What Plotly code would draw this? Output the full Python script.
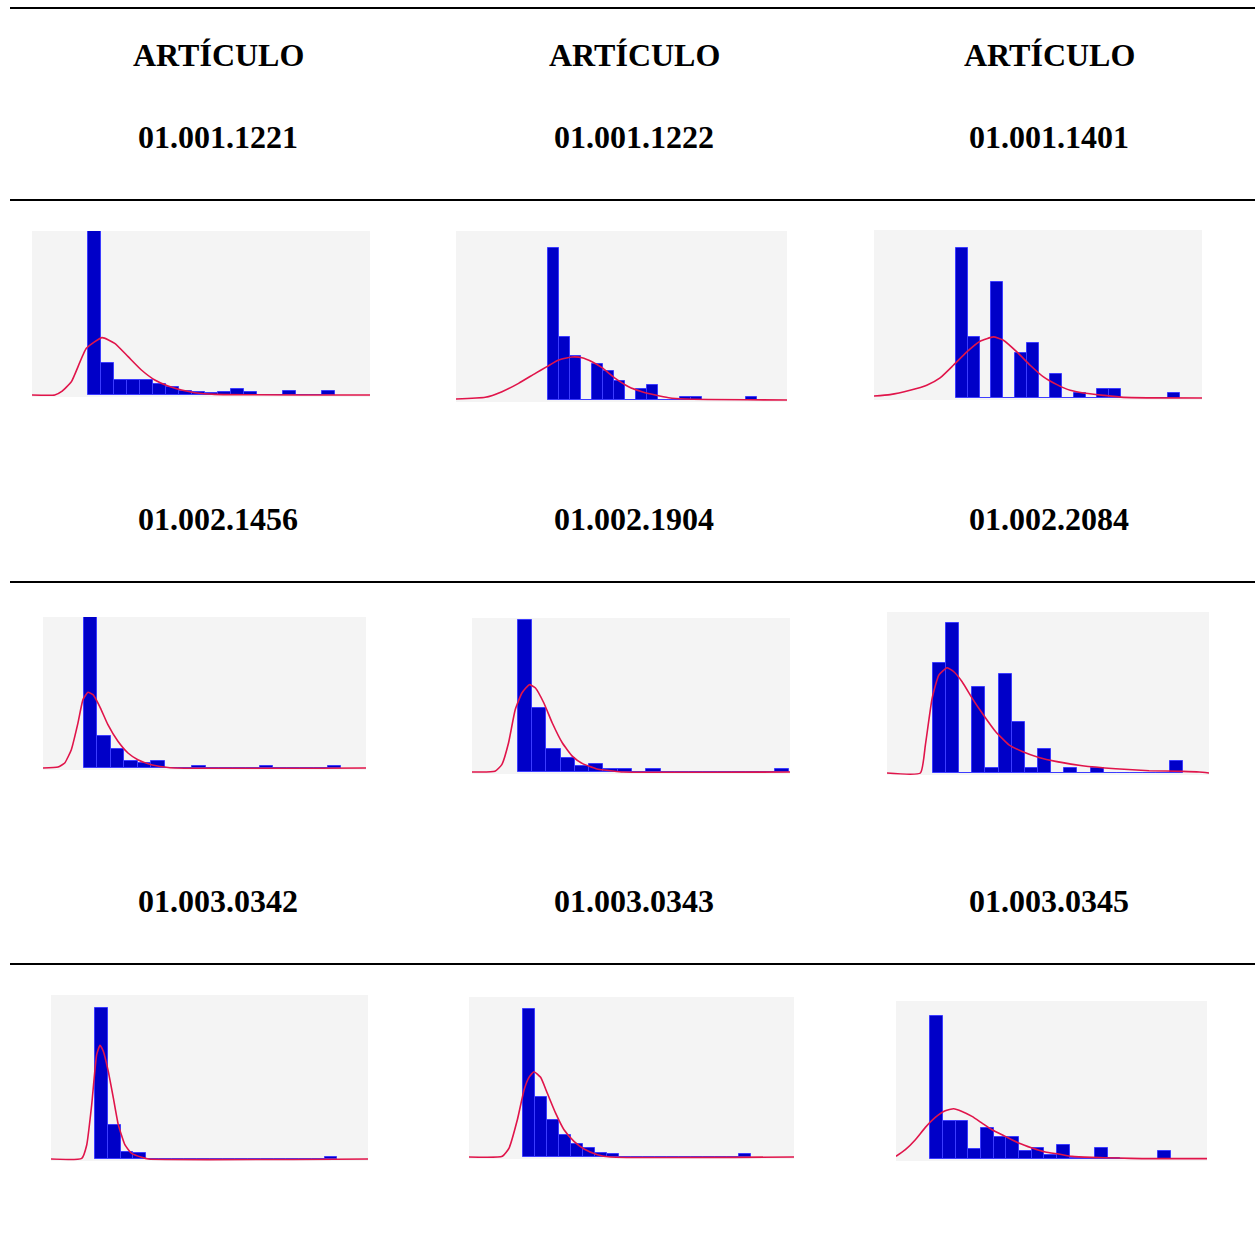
import numpy as np
import plotly.graph_objects as go

W, H = 1255, 1233

# ---------------- data (bin frequencies, relative units) ----------------
articles = ["01.001.1221", "01.001.1222", "01.001.1401",
            "01.002.1456", "01.002.1904", "01.002.2084",
            "01.003.0342", "01.003.0343", "01.003.0345"]
header_text = "ARTÍCULO"

freq_1 = [492, 95, 45, 45, 45, 32, 25, 12, 10, 5, 10, 17, 10, 0, 0, 12, 0, 0, 12]
freq_2 = [457, 190, 133, 0, 107, 87, 57, 0, 33, 45, 0, 0, 10, 10, 0, 0, 0, 0, 10]
freq_3 = [450, 183, 0, 348, 0, 135, 165, 0, 73, 0, 15, 0, 28, 28, 0, 0, 0, 0, 16]
freq_4 = [453, 95, 57, 20, 15, 20, 0, 0, 5, 0, 0, 0, 0, 5, 0, 0, 0, 0, 5]
freq_5 = [455, 192, 69, 42, 17, 25, 9, 9, 0, 9, 0, 0, 0, 0, 0, 0, 0, 0, 9]
freq_6 = [330, 453, 0, 260, 15, 298, 155, 15, 72, 0, 15, 0, 15, 0, 0, 0, 0, 0, 35]
freq_7 = [450, 102, 22, 17, 0, 0, 0, 0, 0, 0, 0, 0, 0, 0, 0, 0, 0, 0, 7]
freq_8 = [447, 180, 110, 67, 40, 27, 12, 9, 0, 0, 0, 0, 0, 0, 0, 0, 0, 0, 9]
freq_9 = [431, 115, 115, 31, 93, 65, 65, 23, 33, 11, 43, 3, 3, 33, 3, 0, 0, 0, 23]

# fitted density curves (x in bin units, y in the same units as frequencies)
curve_x_1 = [-4.31, -2.56, -2.05, -1.28, -0.13, 1.08, 2.05, 3.08, 4.10, 5.13, 6.15, 7.18, 8.2, 9.74, 21.67]
curve_y_1 = [0, 0, 10, 40, 140, 172, 155, 115, 75, 45, 27, 15, 7, 2, 0]
curve_x_2 = [-8.33, -5.67, -4.15, -2.64, -1.12, -0.06, 1.0, 2.21, 3.12, 4.03, 4.94, 6.15, 7.36, 8.58, 9.79, 11.0, 12.5, 21.76]
curve_y_2 = [3, 8, 25, 50, 80, 100, 120, 129, 127, 115, 97, 65, 40, 25, 15, 7, 3, 0]
curve_x_3 = [-6.97, -5.61, -3.91, -2.49, -1.36, -0.23, 0.91, 2.04, 3.17, 4.02, 5.16, 6.29, 7.42, 8.56, 9.69, 10.82, 12.52, 14.22, 20.88]
curve_y_3 = [6, 10, 23, 38, 60, 98, 138, 170, 183, 173, 138, 98, 63, 40, 23, 15, 8, 2, 0]
curve_x_4 = [-3.0, -1.89, -1.40, -0.91, -0.42, -0.05, 0.32, 0.69, 1.18, 1.79, 2.53, 3.27, 4.0, 4.99, 5.97, 6.71, 20.84]
curve_y_4 = [0, 3, 15, 55, 135, 205, 227, 220, 185, 130, 80, 45, 25, 10, 3, 0, 0]
curve_x_5 = [-3.22, -1.61, -1.13, -0.66, -0.19, 0.28, 0.80, 1.23, 1.82, 2.41, 3.12, 3.83, 4.54, 5.48, 6.67, 7.38, 19.08]
curve_y_5 = [0, 2, 22, 87, 187, 237, 262, 252, 207, 147, 87, 47, 25, 10, 3, 0, 0]
curve_x_6 = [-3.48, -0.94, -0.56, -0.05, 0.46, 1.09, 1.60, 2.23, 3.0, 3.76, 4.77, 5.79, 6.80, 8.07, 9.34, 11.37, 13.91, 16.45, 18.98, 20.25, 21.0]
curve_y_6 = [0, 0, 85, 225, 295, 317, 305, 275, 225, 180, 125, 85, 65, 47, 35, 22, 13, 7, 5, 3, 0]
curve_x_7 = [-3.45, -1.04, -0.65, -0.26, 0.13, 0.39, 0.65, 1.04, 1.44, 1.83, 2.35, 2.87, 3.66, 4.18, 21.4]
curve_y_7 = [0, 2, 42, 162, 312, 340, 322, 262, 182, 102, 42, 17, 5, 0, 0]
curve_x_8 = [-4.53, -1.75, -1.19, -0.5, 0.06, 0.47, 0.89, 1.44, 2.0, 2.69, 3.39, 4.22, 5.06, 6.17, 7.28, 22.56]
curve_y_8 = [0, 2, 27, 112, 202, 240, 257, 240, 192, 132, 82, 47, 24, 7, 0, 0]
curve_x_9 = [-2.71, -1.97, -1.18, -0.39, 0.39, 1.18, 1.84, 2.5, 3.29, 4.08, 4.87, 5.92, 6.97, 8.03, 9.08, 10.13, 11.18, 12.76, 14.87, 16.71, 21.84]
curve_y_9 = [8, 28, 58, 95, 125, 145, 151, 143, 128, 108, 88, 68, 48, 33, 21, 15, 8, 5, 3, 1, 1]

freqs = [freq_1, freq_2, freq_3, freq_4, freq_5, freq_6, freq_7, freq_8, freq_9]
curves_x = [curve_x_1, curve_x_2, curve_x_3, curve_x_4, curve_x_5, curve_x_6, curve_x_7, curve_x_8, curve_x_9]
curves_y = [curve_y_1, curve_y_2, curve_y_3, curve_y_4, curve_y_5, curve_y_6, curve_y_7, curve_y_8, curve_y_9]

# ---------------- layout geometry (pixels) ----------------
x_ranges = [(-4.31, 21.67), (-8.33, 21.76), (-6.97, 20.88), (-3.0, 20.84), (-3.22, 19.08),
            (-3.48, 21.0), (-3.45, 21.4), (-4.53, 22.56), (-2.71, 21.84)]
y_tops = [492, 507, 503, 453, 462, 485, 490, 482, 475]
panel_px = [(32, 370, 231, 397), (456, 787, 231, 402), (874, 1202, 230, 400),
            (43, 366, 617, 770), (472, 790, 618, 774), (887, 1209, 612, 775),
            (51, 368, 995, 1161), (469, 794, 997, 1159), (896, 1207, 1001, 1161)]

fig = go.Figure()
layout = dict(width=W, height=H, margin=dict(l=0, r=0, t=0, b=0),
              paper_bgcolor="white", plot_bgcolor="#f4f4f4",
              showlegend=False, bargap=0)

for i in range(9):
    n = i + 1
    xa = "x" if n == 1 else f"x{n}"
    ya = "y" if n == 1 else f"y{n}"
    f = freqs[i]
    centers = np.arange(len(f)) + 0.5
    fig.add_trace(go.Bar(x=centers, y=f, width=1.0, xaxis=xa, yaxis=ya,
                         marker=dict(color="#0000c8", line=dict(color="#3c3cff", width=1)),
                         hoverinfo="skip"))
    fig.add_trace(go.Scatter(x=curves_x[i], y=curves_y[i], mode="lines", xaxis=xa, yaxis=ya,
                             line=dict(color="#e0144a", width=1.6, shape="spline", smoothing=0.45),
                             hoverinfo="skip"))
    x0, x1, y0, y1 = panel_px[i]
    ymax = y_tops[i]
    base_pad = ymax * 2.0 / max(1, (y1 - y0 - 2))
    layout["xaxis" if n == 1 else f"xaxis{n}"] = dict(
        domain=[x0 / W, x1 / W], range=list(x_ranges[i]), anchor=ya,
        showgrid=False, zeroline=False, showticklabels=False, ticks="", showline=False)
    layout["yaxis" if n == 1 else f"yaxis{n}"] = dict(
        domain=[1 - y1 / H, 1 - y0 / H], range=[-base_pad, ymax], anchor=xa,
        showgrid=False, zeroline=False, showticklabels=False, ticks="", showline=False)

fig.update_layout(**layout)

# table rules
for yp in [8, 200, 582, 964]:
    fig.add_shape(type="line", xref="paper", yref="paper",
                  x0=10 / W, x1=1.0, y0=1 - yp / H, y1=1 - yp / H,
                  line=dict(color="black", width=2))

font = dict(family="Liberation Serif, Times New Roman, serif", size=32, color="black")
col_x = [218, 634, 1049]
for c in range(3):
    fig.add_annotation(x=col_x[c] / W, y=1 - 55 / H, xref="paper", yref="paper",
                       text=f"<b>{header_text}</b>", showarrow=False, font=font,
                       xanchor="center", yanchor="middle")
row_y = [137, 519, 901]
for r in range(3):
    for c in range(3):
        fig.add_annotation(x=col_x[c] / W, y=1 - row_y[r] / H, xref="paper", yref="paper",
                           text=f"<b>{articles[r * 3 + c]}</b>", showarrow=False, font=font,
                           xanchor="center", yanchor="middle")

fig.write_html("out.html")
